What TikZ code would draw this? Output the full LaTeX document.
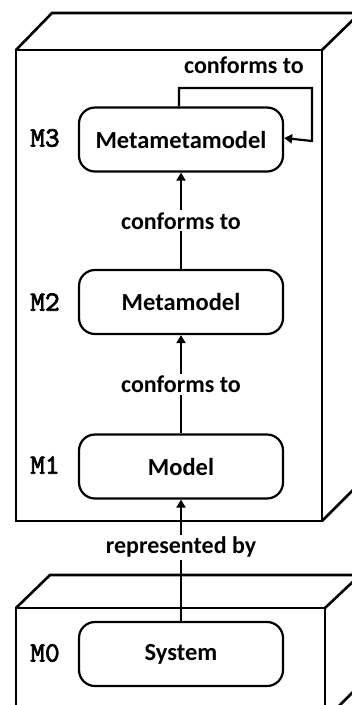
\documentclass[tikz,border=0pt]{standalone}
\usepackage{fontspec}
\setmainfont{Carlito}
\newfontfamily\levelfont{lmmono10-regular.otf}[FakeBold=2.5,AutoFakeBold=2.5]
\usetikzlibrary{arrows.meta}
\begin{document}
\begin{tikzpicture}[x=1pt,y=-1pt,
  edge/.style={line width=2.6pt,line join=miter},
  item/.style={draw,line width=2.2pt,rounded corners=16pt,minimum width=204pt,minimum height=64pt,
    font=\fontsize{24.5}{26}\selectfont\bfseries,inner sep=0pt},
  level/.style={font=\fontsize{28}{30}\levelfont,inner sep=0pt},
  rel/.style={font=\fontsize{24}{26}\selectfont\bfseries,fill=white,inner sep=2pt},
  link/.style={line width=2.2pt,-{Triangle[length=8pt,width=9pt]}},
  plain/.style={line width=2.2pt}]
  \useasboundingbox (0,0) rectangle (352,705);
  \fill[white] (0,0) rectangle (352,705);
  \begin{scope}
    \clip (0,0) rectangle (352,705);
    % upper package: M1 to M3
    \draw[edge] (16,50) rectangle (322,521);
    \draw[edge] (16,50) -- (52,13) -- (360,13) -- (322,50);
    \draw[edge] (322,521) -- (360,483);
    % lower package: M0
    \draw[edge] (16,720) -- (16,608) -- (325,608) -- (325,720);
    \draw[edge] (16,608) -- (50,575) -- (360,575) -- (325,608);
    \draw[edge] (325,720) -- (360,685);
  \end{scope}

  \node[item] (mmm) at (181,139.5) {Metametamodel};
  \node[item] (mm) at (181,302) {Metamodel};
  \node[item] (m) at (181,466.5) {Model};
  \node[item] (sys) at (181,654) {System};

  \node[level] (l3) at (45,138) {M3};
  \node[level] (l2) at (45,302) {M2};
  \node[level] (l1) at (45,465) {M1};
  \node[level] (l0) at (45,653) {M0};

  \node[rel] (c3) at (244,65) {conforms to};
  \coordinate (loopa) at (179,88);
  \coordinate (loopb) at (312,88);
  \coordinate (loopc) at (312,141);
  \draw[link] ([xshift=-2pt]mmm.north) -- (loopa) -- (loopb) -- (loopc) -- ([yshift=1.5pt]mmm.east);

  \draw[link] (mm.north) -- node[rel] (c2) {conforms to} (mmm.south);
  \draw[link] (m.north) -- node[rel] (c1) {conforms to} (mm.south);

  \node[rel] (rep) at (181,547) {represented by};
  \draw[plain] (sys.north) -- (rep.south);
  \draw[link] (rep.north) -- (m.south);
\end{tikzpicture}
\end{document}
